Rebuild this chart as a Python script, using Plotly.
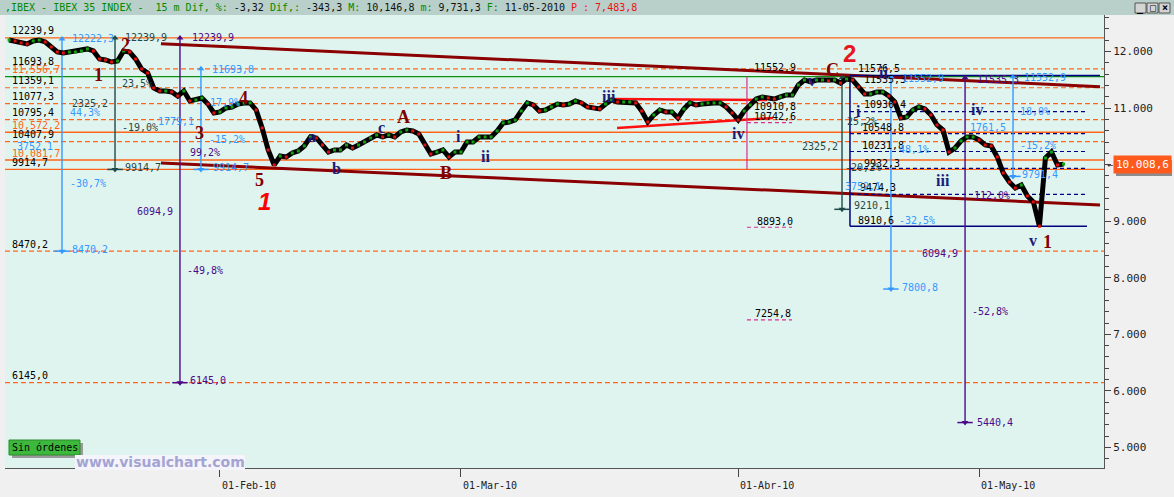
import numpy as np
import plotly.graph_objects as go

# ------------------------------------------------------------------ data
tick_days = [0, 20, 43, 63]                       # trading-day index, 0 = 01-Feb-10
tick_labels = ["01-Feb-10", "01-Mar-10", "01-Abr-10", "01-May-10"]

first_session_day = -17.5                         # half-day sessions
session_step = 0.5
price = [
    12203, 12186, 12150, 12133, 12186, 12203, 12168, 12080, 11991, 11973,
    11991, 11991, 12009, 12045, 12009, 11867, 11850, 11814, 11832, 12009,
    11991, 11867, 11691, 11620, 11355, 11302, 11302, 11284, 11213, 11302,
    11125, 11143, 11178, 11072, 10913, 10931, 11001, 11019, 11072, 11090,
    11090, 10966, 10648, 10259, 9994, 10152, 10135, 10206, 10241, 10330,
    10489, 10471, 10347, 10223, 10259, 10259, 10347, 10294, 10347, 10400,
    10471, 10524, 10489, 10524, 10489, 10577, 10612, 10595, 10542, 10347,
    10188, 10223, 10259, 10135, 10223, 10223, 10400, 10400, 10489, 10489,
    10489, 10595, 10736, 10754, 10789, 10948, 11090, 11054, 10948, 10966,
    11019, 11072, 11054, 11072, 11125, 11090, 11019, 11001, 10984, 11072,
    11143, 11107, 11107, 11107, 11090, 10948, 10754, 10878, 10966, 10931,
    10931, 10825, 10984, 11090, 11054, 11072, 11090, 11090, 11090, 11019,
    10913, 10789, 10948, 11054, 11160, 11196, 11178, 11160, 11196, 11231,
    11231, 11408, 11496, 11461, 11496, 11496, 11479, 11496, 11443, 11514,
    11496, 11372, 11249, 11249, 11284, 11284, 11213, 11107, 10825, 10842,
    10966, 11019, 10984, 10878, 10701, 10612, 10223, 10294, 10418, 10489,
    10489, 10436, 10347, 10330, 10135, 9852, 9693, 9587, 9640, 9446,
    9340, 8911, 10117, 10223, 9994, 10009,
]
last_price = 10008.6

solid_levels = [12239.9, 10572.2, 10081.7, 9914.7]
dashed_levels = [11693.8, 11359.1, 11077.3, 10795.4, 10407.9, 8470.2, 6145.0]
green_levels = [11556.7]
left_labels_black = [12239.9, 11693.8, 11359.1, 11077.3, 10795.4, 10407.9, 9914.7, 8470.2, 6145.0]
left_labels_orange = [11556.7, 10572.2, 10081.7]

trend_days = [-4.90, 73.03]
trend_upper = [12138, 11378]
trend_lower = [10029, 9287]

tri_upper_days = [32.37, 45.39]
tri_upper = [11160, 11143]
tri_lower_days = [32.95, 45.89]
tri_lower = [10648, 10825]

measure_day = [-13.11, -8.71, -3.32, -1.58, 51.62, 55.68, 61.83, 65.81]
measure_top = [12222.3, 12239.9, 12239.9, 11693.8, 11535.3, 11552.9, 11535.3, 11552.9]
measure_bottom = [8470.2, 9914.7, 6145.0, 9914.7, 9210.1, 7800.8, 5440.4, 9791.4]

pink_day = 43.73
pink_end_day = 47.47
pink_top, pink_bottom = 11552.9, 9914.7
pink_labels = [10910.8, 10742.6, 8893.0, 7254.8]
pink_dash_levels = [10742.6, 8893.0, 7254.8]

box_days = [52.28, 73.03, 71.95]
box_top, box_bottom = 11576.5, 8910.6
box_dash_levels = [10936.4, 10548.8, 10231.8, 9932.3, 9474.3]
box_labels = [11576.5, 11535.3, 10936.4, 10548.8, 10231.8, 9932.3, 9474.3, 8910.6]

wave_red = [("1", -10.12, 11585), ("2", -7.80, 12115), ("3", -1.66, 10559), ("4", 1.91, 11178),
            ("5", 3.24, 9728), ("A", 15.27, 10842), ("B", 18.76, 9852), ("C", 50.87, 11673),
            ("1", 68.63, 8633)]
wave_navy = [("a", 7.63, 10489), ("b", 9.71, 9940), ("c", 13.44, 10665), ("i", 19.83, 10506),
             ("ii", 22.07, 10135), ("iii", 32.28, 11196), ("iv", 42.99, 10559), ("v", 49.13, 11496),
             ("i", 52.95, 10931), ("ii", 55.10, 11620), ("iii", 60.00, 9728), ("iv", 62.82, 10966),
             ("v", 67.47, 8650)]
wave_big = [("1", 3.73, 9340), ("2", 52.28, 11973)]

# ------------------------------------------------------------------ styles
MONO = "DejaVu Sans Mono"
SERIF = "Liberation Serif"
ORANGE = "#ff6418"
BLUE = "#3399ff"
TEAL = "#1f4a4a"
PURPLE = "#4a0a8a"
NAVY = "#000080"
PINK = "#d4308c"
DARKRED = "#8b0000"
measure_colors = [BLUE, TEAL, PURPLE, BLUE, TEAL, BLUE, PURPLE, BLUE]
# label placement per measure: (y, xshift) for pct-up, diff, pct-down ; top/bottom label shifts
measure_place = [
    dict(top=(8, 0), pu=(10913, 6), df=(10312, -7), pd=(9675, 6), bot=(8, 2)),
    dict(top=(8, 0), pu=(11426, 5), df=(11072, -5), pd=(10648, 5), bot=(8, 2)),
    dict(top=(10, 0), pu=(10206, 8), df=(9163, -5), pd=(8120, 5), bot=(8, 2)),
    dict(top=(9, -1), pu=(11090, 7), df=(10754, -5), pd=(10453, 6), bot=(10, 2)),
    dict(top=None, pu=(10754, 3), df=(10312, -2), pd=(9958, 1), bot=(10, 4)),
    dict(top=(9, -2), pu=(10276, 6), df=(9605, -8), pd=(9021, 6), bot=(9, 2)),
    dict(top=(10, -2), pu=(9463, 7), df=(8435, -5), pd=(7412, 5), bot=(10, 0)),
    dict(top=(9, -1), pu=(10931, 5), df=(10648, -5), pd=(10330, 5), bot=(7, 2)),
]
box_label_shift = [(6, 7), (12, -2), (12, 7), (10, 6), (10, 6), (12, 5), (8, 7), (6, 6)]


def f1(v):
    return f"{v:.1f}".replace(".", ",")


def pct(v):
    return f"{v:.1f}%".replace(".", ",")


shapes, annos = [], []


def line(x0, y0, x1, y1, color, width=1, dash=None, xref="x"):
    shapes.append(dict(type="line", xref=xref, yref="y", x0=x0, y0=y0, x1=x1, y1=y1,
                       line=dict(color=color, width=width, dash=dash), layer="below"))


def text(x, y, s, color="black", size=10, anchor="left", xs=0, ys=0, family=MONO,
         xref="x", yref="y", **kw):
    annos.append(dict(x=x, y=y, xref=xref, yref=yref, text=s, showarrow=False,
                      xanchor=anchor, yanchor="middle", xshift=xs, yshift=ys,
                      font=dict(family=family, size=size, color=color), **kw))


# full-width levels
for v in dashed_levels:
    line(0, v, 1, v, ORANGE, 1.2, "5px,3px", xref="paper")
for v in solid_levels:
    line(0, v, 1, v, ORANGE, 1.3, xref="paper")
for v in green_levels:
    line(0, v, 1, v, "#109010", 1.2, xref="paper")
for v in left_labels_black:
    text(0, v, f1(v), xref="paper", xs=5, ys=7)
for v in left_labels_orange:
    text(0, v, f"{v:,.1f}".replace(".", ","), color=ORANGE, xref="paper", xs=5, ys=7)

# trend channel
line(trend_days[0], trend_upper[0], trend_days[1], trend_upper[1], DARKRED, 3)
line(trend_days[0], trend_lower[0], trend_days[1], trend_lower[1], DARKRED, 3)
line(tri_upper_days[0], tri_upper[0], tri_upper_days[1], tri_upper[1], "#ff1010", 2.5)
line(tri_lower_days[0], tri_lower[0], tri_lower_days[1], tri_lower[1], "#ff1010", 2.5)

# pink projection
line(pink_day, pink_top, pink_day, pink_bottom, PINK, 1.2)
for v in pink_dash_levels:
    line(pink_day, v, pink_end_day, v, PINK, 1.2, "4px,3px")
text(pink_day, pink_top, f1(pink_top), xs=5, ys=9)
for v, (xs, ys) in zip(pink_labels, [(5, 7), (5, 6), (8, 6), (6, 6)]):
    text(pink_day, v, f1(v), xs=xs, ys=ys)

# navy box
line(box_days[0], box_top, box_days[1], box_top, NAVY, 1.5)
line(box_days[0], box_bottom, box_days[2], box_bottom, NAVY, 1.5)
line(box_days[0], box_top, box_days[0], box_bottom, NAVY, 1.5)
for v in box_dash_levels:
    line(box_days[0], v, box_days[2], v, NAVY, 1.2, "4px,3px")
for v, (xs, ys) in zip(box_labels, box_label_shift):
    text(box_days[0], v, f1(v), xs=xs, ys=ys)

# vertical measurement lines
end_x_top, end_y_top, end_x_bot, end_y_bot, end_col = [], [], [], [], []
for d, t, b, c, p in zip(measure_day, measure_top, measure_bottom, measure_colors, measure_place):
    line(d, t, d, b, c, 1.4)
    diff = t - b
    if p["top"]:
        text(d, t, f1(t), color=c, xs=p["top"][0], ys=p["top"][1])
    text(d, p["pu"][0], pct(diff / b * 100), color=c, xs=p["pu"][1])
    text(d, p["df"][0], f1(diff), color=c, xs=p["df"][1], anchor="right")
    text(d, p["pd"][0], pct(-diff / t * 100), color=c, xs=p["pd"][1])
    text(d, b, f1(b), color=c, xs=p["bot"][0], ys=p["bot"][1])
    end_x_top.append(d); end_y_top.append(t)
    end_x_bot.append(d); end_y_bot.append(b); end_col.append(c)

fig = go.Figure()
fig.add_trace(go.Scatter(x=end_x_top, y=end_y_top, mode="markers", hoverinfo="skip",
                         marker=dict(symbol="triangle-up", size=6, color=end_col)))
fig.add_trace(go.Scatter(x=end_x_bot, y=end_y_bot, mode="markers", hoverinfo="skip",
                         marker=dict(symbol="triangle-down", size=6, color=end_col)))
fig.add_trace(go.Scatter(x=end_x_bot, y=end_y_bot, mode="markers", hoverinfo="skip",
                         marker=dict(symbol="line-ew", size=11, line=dict(color=end_col, width=1.5))))

# price
day = first_session_day + session_step * np.arange(len(price))
colors = ["#10a010"] + ["#e01010" if price[i] < price[i - 1] else "#10a010"
                        for i in range(1, len(price))]
fig.add_trace(go.Scatter(x=day, y=price, mode="lines", line=dict(color="black", width=5),
                         hoverinfo="skip"))
fig.add_trace(go.Scatter(x=day, y=price, mode="markers", hoverinfo="skip",
                         marker=dict(symbol="square", size=3, color=colors)))

# wave labels
for s, x, y in wave_red:
    text(x, y, f"<b>{s}</b>", color="#800000", size=18, family=SERIF, anchor="center")
for s, x, y in wave_navy:
    text(x, y, f"<b>{s}</b>", color="#1a1a7a", size=16, family=SERIF, anchor="center")
text(wave_big[0][1], wave_big[0][2], f"<b><i>{wave_big[0][0]}</i></b>", color="#ff0000",
     size=24, family="Liberation Sans", anchor="center")
text(wave_big[1][1], wave_big[1][2], f"<b>{wave_big[1][0]}</b>", color="#e8141e",
     size=24, family="Liberation Sans", anchor="center")

# ------------------------------------------------------------------ chrome
W, H, L, T, PW, PH = 1174, 497, 5, 15, 1099, 453


def fx(px):
    return (px - L) / PW


def fy(py):
    return (T + PH - py) / PH


def rect(x0, y0, x1, y1, fill, lc=None, lw=0):
    shapes.append(dict(type="rect", xref="paper", yref="paper", x0=fx(x0), x1=fx(x1),
                       y0=fy(y1), y1=fy(y0), fillcolor=fill,
                       line=dict(color=lc or fill, width=lw), layer="above"))


rect(0, 0, W, 15, "#b9cfc9")
rect(1135, 3, 1146, 13, "#d4d4d4", "#555", 1)
rect(1147, 3, 1158, 13, "#d4d4d4", "#555", 1)
rect(1159, 3, 1170, 13, "#d4d4d4", "#555", 1)
for px, g in [(1140.5, "_"), (1152.5, "□"), (1164.5, "×")]:
    text(fx(px), fy(7.5), f"<b>{g}</b>", size=10, anchor="center", xref="paper", yref="paper")

G, K, R = "#008a00", "#111111", "#ee1111"
title_parts = [(",IBEX - IBEX 35 INDEX -\u00a0\u00a015 m Dif, %: ", G), ("-3,32", K), (" Dif,: ", G),
               ("-343,3", K), (" M: ", G), ("10,146,8", K), (" m: ", G), ("9,731,3", K),
               (" F: ", G), ("11-05-2010", K), (" P : 7,483,8", R)]
title_html = "".join(f"<span style='color:{c}'>{s.replace(' ', chr(160))}</span>" for s, c in title_parts)
text(fx(3), fy(7.5), title_html, size=10, xref="paper", yref="paper")

# current price tag (shadow box + label)
rect(1116, 160, 1172, 176, "#8c8c8c")
text(fx(1105), last_price, "←", color="#333", size=10, xref="paper")
text(fx(1113), last_price, "10.008,6", color="white", size=11, xref="paper",
     bgcolor="#ff5a1e", borderpad=2)

# footer widgets
rect(12, 443, 83, 458, "#9a9a9a")
rect(9, 440, 80, 455, "#3cb83c", "#2a8a2a", 1)
text(fx(44.5), fy(447.5), "Sin órdenes", size=10, anchor="center", xref="paper", yref="paper")
rect(75, 455, 245, 470, "#f4f4fa")
text(fx(160), fy(462), "<b>www.visualchart.com</b>", color="#a4a4d4", size=14,
     family="DejaVu Sans", anchor="center", xref="paper", yref="paper")

fig.update_layout(
    width=W, height=H, margin=dict(l=L, r=70, t=T, b=29, pad=0),
    paper_bgcolor="#f0f0f0", plot_bgcolor="#e0f4ef", showlegend=False,
    separators=",.", shapes=shapes, annotations=annos,
    xaxis=dict(range=[-17.84, 73.36], showgrid=False, zeroline=False,
               tickvals=tick_days, ticktext=tick_labels, ticks="outside", ticklen=8,
               tickcolor="#444", showline=True, linecolor="#555", linewidth=1,
               tickfont=dict(family=MONO, size=10, color="#222"), ticklabelshift=29),
    yaxis=dict(side="right", range=[4637, 12645], dtick=1000, tick0=0, tickformat=",d",
               ticks="outside", ticklen=6, tickcolor="#444",
               minor=dict(dtick=200, tick0=0, ticks="outside", ticklen=4, tickcolor="#444"),
               showline=True, linecolor="#555", linewidth=1, showgrid=False, zeroline=False,
               tickfont=dict(family=MONO, size=11, color="#222")),
)

fig.write_html("out.html", config={"displayModeBar": False},
               post_script="document.body.style.margin='0';document.body.style.padding='0';"
                           "document.body.style.overflow='hidden';")
